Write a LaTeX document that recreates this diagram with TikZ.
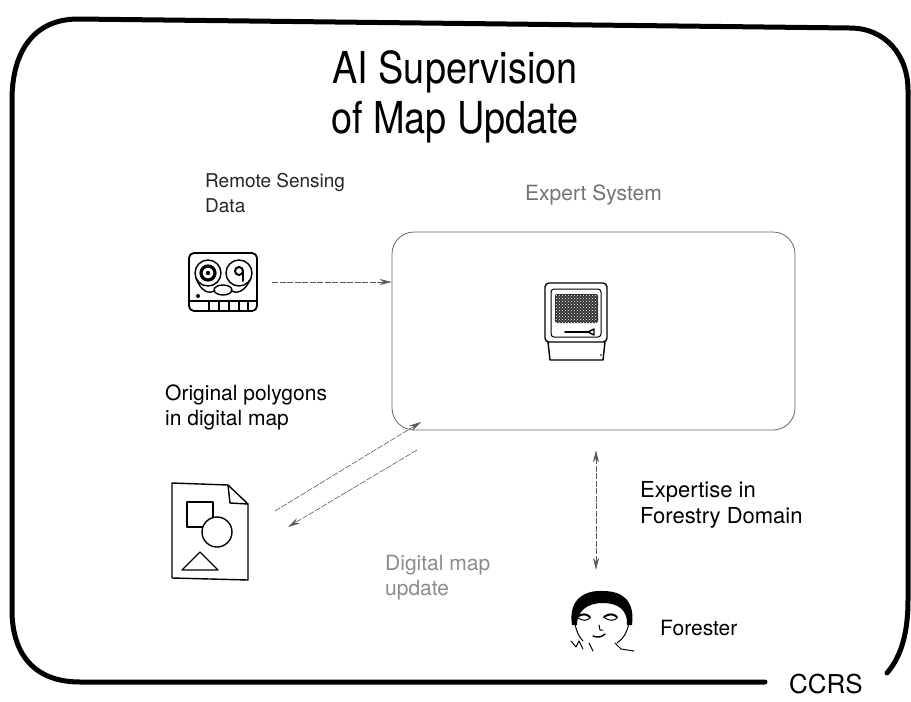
\documentclass[tikz,border=0pt]{standalone}
\usepackage{fontspec}
\setmainfont{TeX Gyre Heros}
\newfontfamily\titlefont[FakeStretch=0.86]{TeX Gyre Heros}
\usetikzlibrary{arrows.meta, positioning, patterns}

\begin{document}
\begin{tikzpicture}[x=1pt, y=-1pt,
    >={Stealth[length=12pt, width=6pt]},
    frame/.style={line width=5pt, line cap=round, line join=round},
    txt/.style={font=\fontsize{21}{25}\selectfont, align=left, inner sep=0pt, anchor=west},
    icon/.style={inner sep=0pt},
    sketch/.style={line width=1.4pt, line join=round, line cap=round},
    link/.style={->, line width=0.6pt, draw=black!65, dash pattern=on 6pt off 1.5pt}
]
    \useasboundingbox (0,0) rectangle (911,702);

    % frame round the slide, open at the bottom right
    \draw[frame] (765,682) -- (80,682) .. controls (35,682) and (12,655) .. (12,610)
        -- (12,100) .. controls (12,50) and (35,19) .. (78,19) -- (850,28)
        .. controls (885,28) and (908,55) .. (908,90) -- (908,600)
        .. controls (908,640) and (898,660) .. (887,673);
    \node[font=\fontsize{26}{30}\selectfont, inner sep=0pt] (ccrs) at (826,684) {CCRS};

    \node[font={\titlefont\fontsize{44}{50}\selectfont}, align=center] (title) at (455,97) {AI Supervision\\of Map Update};

    % expert system
    \node[draw=black!60, line width=0.8pt, rounded corners=22pt, minimum width=403pt, minimum height=198pt] (expert) at (593.5,331) {};
    \node[txt, text=black!55, above=26pt of expert] (expertlbl) {Expert System};

    \node[icon, minimum width=62pt, minimum height=78pt] (mac) at (576,321) {};
    \begin{scope}[shift={(mac.center)}, sketch]
        \draw[rounded corners=4pt] (-31,-38) rectangle (31,21);
        \draw[rounded corners=3pt, line width=1pt] (-25,-32) rectangle (25,16);
        \fill[black!80, rounded corners=2pt] (-21,-27) rectangle (22,2);
        \fill[pattern=crosshatch dots, pattern color=white] (-20,-26) rectangle (21,1);
        \draw (-11,11) -- (12,11);
        \draw (12,11) -- (18,8) -- (18,14) -- cycle;
        \draw (-28,21) -- (-26,39) -- (27,39) -- (29,21);
        \fill (25,34) circle (0.8);
    \end{scope}

    % remote sensing data
    \node[txt, font=\fontsize{19}{25}\selectfont, text=black!85] (rslbl) at (205,193) {Remote Sensing\\Data};
    \node[icon, minimum width=70pt, minimum height=60pt] (tape) at (223,282) {};
    \begin{scope}[shift={(tape.center)}, sketch]
        \draw[rounded corners=5pt, line width=1.8pt] (-34,-29) rectangle (34,29);
        \draw (-15,-9) circle (13);
        \draw[line width=3.2pt] (-15,-9) circle (7);
        \fill (-15,-9) circle (2.2);
        \draw (16,-9) circle (13);
        \draw[line width=2pt] (16,-11) circle (4);
        \draw[line width=2pt] (20,-11) -- (20,-1);
        \draw (-27,-4) .. controls (-22,10) and (-14,12) .. (-8,9);
        \draw (8,9) .. controls (14,12) and (22,10) .. (28,-4);
        \draw (0,8) ellipse (9 and 5);
        \fill (-25,14) circle (2);
        \draw (-34,19) -- (34,19);
        \foreach \bx in {-14,-4,6,16,25}
            \draw (\bx,19) -- (\bx,29);
    \end{scope}
    \draw[link] ([xshift=14pt]tape.east) -- (tape.east -| expert.west);

    % digital map
    \node[txt] (maplbl) at (165,407) {Original polygons\\in digital map};
    \node[icon, minimum width=76pt, minimum height=97pt] (map) at (210,531) {};
    \begin{scope}[shift={(map.center)}, sketch]
        \draw (-38,-48) -- (18,-46) -- (38,-27) -- (38,49) -- (-38,47) -- cycle;
        \draw (18,-46) -- (20,-28) -- (38,-27);
        \draw (-23,-29) rectangle (3,-4);
        \draw[fill=white] (7,1) circle (15);
        \draw (-28,39) -- (-10,21) -- (8,39) -- cycle;
    \end{scope}
    \coordinate (mapout) at (275,511);
    \coordinate (mapin) at (421,422);
    \coordinate (updout) at (417,450);
    \coordinate (updin) at (288,527);
    \draw[link] (mapout) -- (mapin);
    \draw[link] (updout) -- (updin);
    \node[txt, text=black!45] (updlbl) at (385,578) {Digital map\\update};

    % forester
    \node[icon, minimum width=64pt, minimum height=62pt] (forester) at (601,621) {};
    \begin{scope}[shift={(forester.center)}, sketch]
        \fill (-29,4) .. controls (-33,-22) and (-16,-31) .. (2,-30)
            .. controls (22,-30) and (34,-20) .. (31,4) -- (26,4)
            .. controls (27,-10) and (18,-18) .. (2,-18)
            .. controls (-14,-18) and (-24,-10) .. (-24,4) -- cycle;
        \draw[line width=2pt] (-24,-4) .. controls (-19,-8) and (-14,-7) .. (-11,-4);
        \draw[line width=1pt] (-23,-3) .. controls (-18,0) and (-14,0) .. (-11,-3);
        \draw[line width=2pt] (3,-4) .. controls (8,-8) and (13,-7) .. (16,-4);
        \draw[line width=1pt] (4,-3) .. controls (9,0) and (13,0) .. (16,-3);
        \draw[line width=1pt] (-2,4) -- (-1,9) -- (2,9);
        \draw (-8,15) .. controls (-3,17) and (1,16) .. (4,13);
        \draw[line width=1pt] (28,2) .. controls (26,12) and (22,18) .. (16,22);
        \draw[line width=1pt] (-26,2) .. controls (-25,10) and (-22,16) .. (-18,20);
        \draw[line width=1pt] (-30,20) -- (-25,26) -- (-22,20) -- (-18,28);
        \draw[line width=1pt] (-12,22) -- (-8,30);
        \draw[line width=1pt] (14,22) -- (20,28) -- (33,30);
    \end{scope}
    \node[txt] (foresterlbl) at (660,628) {Forester};

    \coordinate (askbox) at (forester.north |- expert.south);
    \draw[link, <->] ([xshift=-5pt, yshift=-20pt]askbox) -- ([xshift=-5pt, yshift=20pt]forester.north);
    \node[txt, font=\fontsize{22}{26}\selectfont] (domainlbl) at (640,505) {Expertise in\\Forestry Domain};
\end{tikzpicture}
\end{document}
